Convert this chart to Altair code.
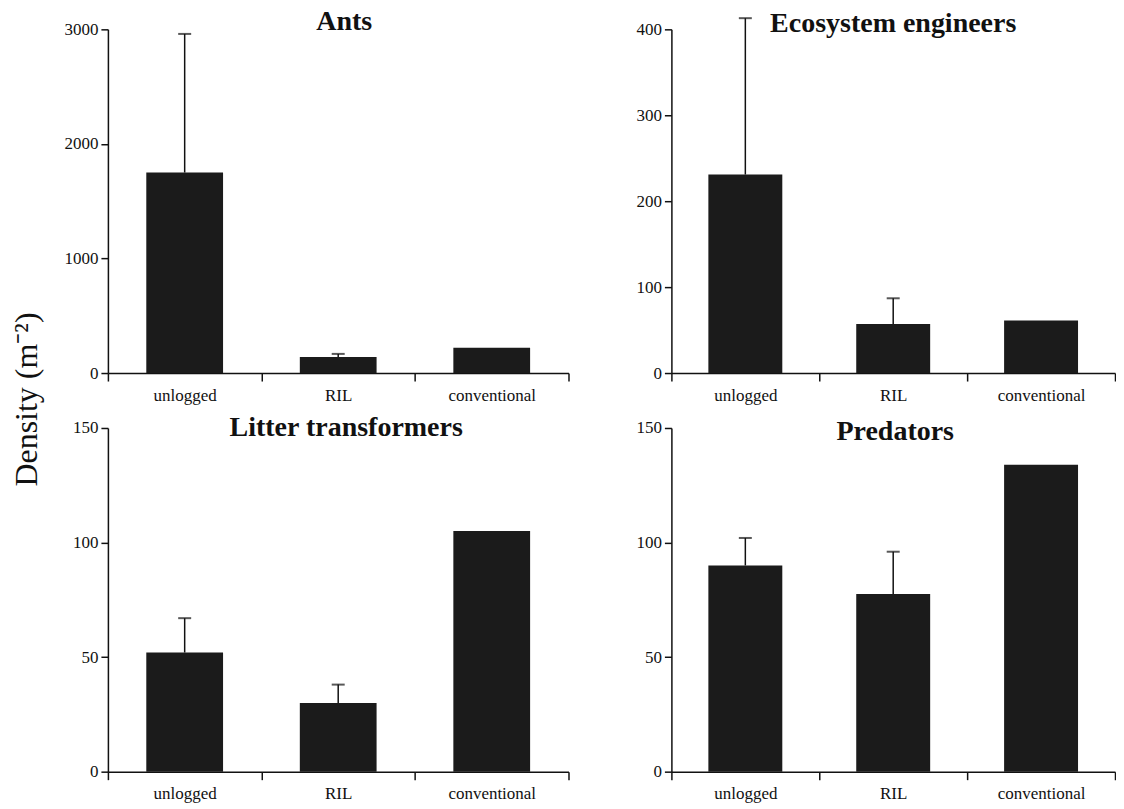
import json
import altair as alt
import pandas as pd

# ---- data ----
categories = ["unlogged", "RIL", "conventional"]

ants_mean = [1750, 140, 220]
ants_upper = [2960, 167, None]

eco_mean = [231, 57, 61]
eco_upper = [413, 87, None]

litter_mean = [52, 30, 105]
litter_upper = [67, 38, None]

pred_mean = [90, 77.5, 134]
pred_upper = [102, 96, None]

FONT = "Liberation Serif"
BAR = "#1b1b1b"
INK = "#111111"

LABEL_EXPR = (
    "datum.value % 1 === 0 ? '' : "
    + json.dumps(categories)
    + "[floor(datum.value)]"
)


def panel(title, means, uppers, ymax, ystep, width, height, t_offset, t_dx, ytitle=False):
    df = pd.DataFrame(
        {"category": categories, "idx": list(range(len(categories))),
         "mean": means, "upper": uppers}
    )
    xscale = alt.Scale(domain=[0, len(categories)], nice=False, zero=False, padding=0)
    yscale = alt.Scale(domain=[0, ymax], nice=False, padding=0)
    xaxis = alt.Axis(
        values=[i * 0.5 for i in range(2 * len(categories) + 1)],
        labelExpr=LABEL_EXPR,
        tickOpacity={"condition": {"test": "datum.value % 1 === 0", "value": 1}, "value": 0},
        tickSize=8, tickWidth=1.5, tickColor=INK,
        domainColor=INK, domainWidth=1.5,
        grid=False, title=None,
        labelFont=FONT, labelFontSize=17, labelColor=INK,
        labelPadding=6, labelOverlap=False, labelFlush=False, labelBound=False,
    )
    yargs = dict(
        values=list(range(0, ymax + 1, ystep)),
        format="d",
        tickSize=7, tickWidth=1.5, tickColor=INK,
        domainColor=INK, domainWidth=1.5,
        grid=False,
        labelFont=FONT, labelFontSize=17, labelColor=INK, labelPadding=3,
    )
    if ytitle:
        yargs.update(
            title="Density (m\u207b\u00b2)",
            titleFont=FONT, titleFontSize=32, titleFontWeight="normal",
            titleColor=INK, titleAngle=270, titleBaseline="alphabetic",
            titleAlign="center", titleX=-71, titleY=370,
        )
    else:
        yargs.update(title=None)
    yaxis = alt.Axis(**yargs)

    base = alt.Chart(df).transform_calculate(
        x0="datum.idx + 0.25", x1="datum.idx + 0.75", xc="datum.idx + 0.5"
    )
    bars = base.mark_bar(color=BAR, orient="vertical").encode(
        x=alt.X("x0:Q", scale=xscale, axis=xaxis),
        x2="x1:Q",
        y=alt.Y("mean:Q", scale=yscale, axis=yaxis),
        y2=alt.datum(0),
    )
    err = base.transform_filter("isValid(datum.upper)")
    stems = err.mark_rule(color=INK, strokeWidth=1.5).encode(
        x=alt.X("xc:Q", scale=xscale, axis=xaxis),
        y=alt.Y("mean:Q", scale=yscale, axis=yaxis),
        y2="upper:Q",
    )
    caps = err.mark_tick(color=INK, orient="horizontal", size=13, thickness=2).encode(
        x=alt.X("xc:Q", scale=xscale, axis=xaxis),
        y=alt.Y("upper:Q", scale=yscale, axis=yaxis),
    )
    return alt.layer(bars, stems, caps).properties(
        width=width,
        height=height,
        title=alt.TitleParams(
            text=title, font=FONT, fontSize=28, fontWeight="bold", color=INK,
            anchor="middle", frame="group", baseline="alphabetic",
            offset=t_offset, dx=t_dx,
        ),
    )


W_L, W_R, H = 461, 444, 344

p1 = panel("Ants", ants_mean, ants_upper, 3000, 1000, W_L, H, -38, 6, ytitle=True)
p2 = panel("Ecosystem engineers", eco_mean, eco_upper, 400, 100, W_R, H, -43, 0)
p3 = panel("Litter transformers", litter_mean, litter_upper, 150, 50, W_L, H, -45, 8)
p4 = panel("Predators", pred_mean, pred_upper, 150, 50, W_R, H, -49, 2)

chart = (
    alt.concat(p1, p2, p3, p4, columns=2, spacing={"row": 55, "column": 103})
    .properties(bounds="flush", padding={"left": 3, "top": 0, "right": 0, "bottom": 8},
                background="white")
    .configure_view(stroke="transparent", strokeWidth=0)
)

chart.save("out.html", embed_options={"renderer": "svg", "actions": False})
